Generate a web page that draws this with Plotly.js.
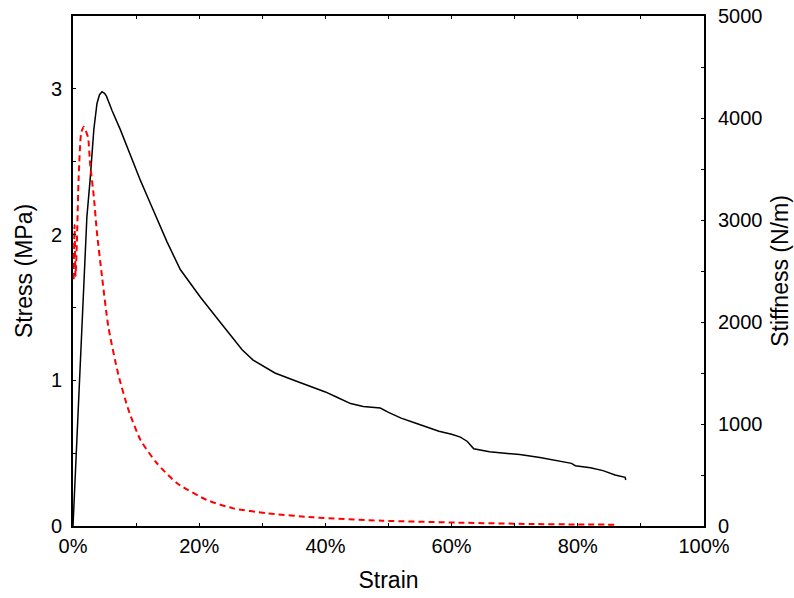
<!DOCTYPE html>
<html>
<head>
<meta charset="utf-8">
<script src="https://cdn.plot.ly/plotly-3.0.1.min.js"></script>
<style>
  html, body { margin: 0; padding: 0; background: #fff; }
  #chart { width: 794px; height: 598px; }
</style>
</head>
<body>
<div id="chart"></div>
<script>
// Stress–strain curve (left axis, MPa)
const stressStrain = [0, 0.005, 0.010, 0.018, 0.022, 0.027, 0.033, 0.038, 0.042, 0.046, 0.050, 0.053, 0.062, 0.075, 0.090, 0.107, 0.123, 0.138, 0.149, 0.170, 0.202, 0.233, 0.249, 0.268, 0.285, 0.300, 0.320, 0.350, 0.380, 0.400, 0.420, 0.440, 0.460, 0.487, 0.500, 0.520, 0.540, 0.566, 0.580, 0.600, 0.614, 0.625, 0.635, 0.660, 0.708, 0.740, 0.765, 0.772, 0.790, 0.796, 0.820, 0.840, 0.859, 0.875, 0.876];
const stressValues = [0, 0.50, 1.01, 1.83, 2.12, 2.37, 2.72, 2.90, 2.96, 2.98, 2.97, 2.95, 2.85, 2.72, 2.55, 2.37, 2.21, 2.06, 1.95, 1.76, 1.57, 1.40, 1.31, 1.21, 1.14, 1.10, 1.05, 1.00, 0.95, 0.92, 0.88, 0.84, 0.82, 0.81, 0.78, 0.74, 0.71, 0.67, 0.65, 0.63, 0.61, 0.58, 0.53, 0.51, 0.49, 0.47, 0.45, 0.448, 0.43, 0.414, 0.40, 0.38, 0.35, 0.334, 0.316];

// Stiffness–strain curve (right axis, N/m)
const stiffStrain = [0.001, 0.0025, 0.004, 0.006, 0.009, 0.013, 0.017, 0.020, 0.024, 0.027, 0.033, 0.038, 0.046, 0.056, 0.072, 0.088, 0.107, 0.133, 0.165, 0.212, 0.254, 0.307, 0.381, 0.490, 0.619, 0.724, 0.800, 0.864];
const stiffValues = [2420, 2950, 2450, 2750, 3424, 3853, 3915, 3880, 3804, 3559, 3228, 2873, 2444, 1954, 1480, 1137, 843, 615, 419, 255, 173, 125, 85, 52, 32, 20, 15, 13];

const axisFont = { family: 'Liberation Sans, Arial, sans-serif', size: 20, color: '#000' };
const titleFont = { family: 'Liberation Sans, Arial, sans-serif', size: 23, color: '#000' };

const traces = [
  {
    x: stressStrain, y: stressValues, type: 'scatter', mode: 'lines',
    line: { color: '#000', width: 1.5 }, yaxis: 'y', hoverinfo: 'skip'
  },
  {
    x: stiffStrain, y: stiffValues, type: 'scatter', mode: 'lines',
    line: { color: '#ff0000', width: 2, dash: '6px,4px', shape: 'spline', smoothing: 0.6 },
    yaxis: 'y2', hoverinfo: 'skip'
  }
];

const layout = {
  width: 794, height: 598,
  margin: { l: 73, r: 90, t: 16, b: 72 },
  paper_bgcolor: '#fff', plot_bgcolor: '#fff',
  showlegend: false,
  font: axisFont,
  xaxis: {
    range: [0, 1], dtick: 0.2, tick0: 0, tickformat: '.0%',
    showgrid: false, zeroline: false,
    showline: true, linecolor: '#000', linewidth: 2, mirror: 'allticks',
    ticks: 'inside', ticklen: 3, tickcolor: '#000', tickwidth: 1,
    minor: { dtick: 0.1, ticks: 'inside', ticklen: 3, tickcolor: '#000' },
    tickfont: axisFont, ticklabelstandoff: 1,
    title: { text: 'Strain', font: titleFont, standoff: 16 }
  },
  yaxis: {
    range: [0, 3.5], dtick: 1, tick0: 0,
    showgrid: false, zeroline: false,
    showline: true, linecolor: '#000', linewidth: 2,
    ticks: 'inside', ticklen: 3, tickcolor: '#000', tickwidth: 1,
    minor: { dtick: 0.5, ticks: 'inside', ticklen: 3, tickcolor: '#000' },
    tickfont: axisFont, ticklabelstandoff: 5,
    title: { text: 'Stress (MPa)', font: titleFont, standoff: 12 }
  },
  yaxis2: {
    range: [0, 5000], dtick: 1000, tick0: 0, overlaying: 'y', side: 'right',
    showgrid: false, zeroline: false,
    showline: true, linecolor: '#000', linewidth: 2,
    ticks: 'inside', ticklen: 3, tickcolor: '#000', tickwidth: 1,
    minor: { dtick: 500, ticks: 'inside', ticklen: 3, tickcolor: '#000' },
    tickfont: axisFont, ticklabelstandoff: 8,
    title: { text: 'Stiffness (N/m)', font: titleFont, standoff: 10 }
  }
};

Plotly.newPlot('chart', traces, layout, { staticPlot: true, displayModeBar: false });
</script>
</body>
</html>
